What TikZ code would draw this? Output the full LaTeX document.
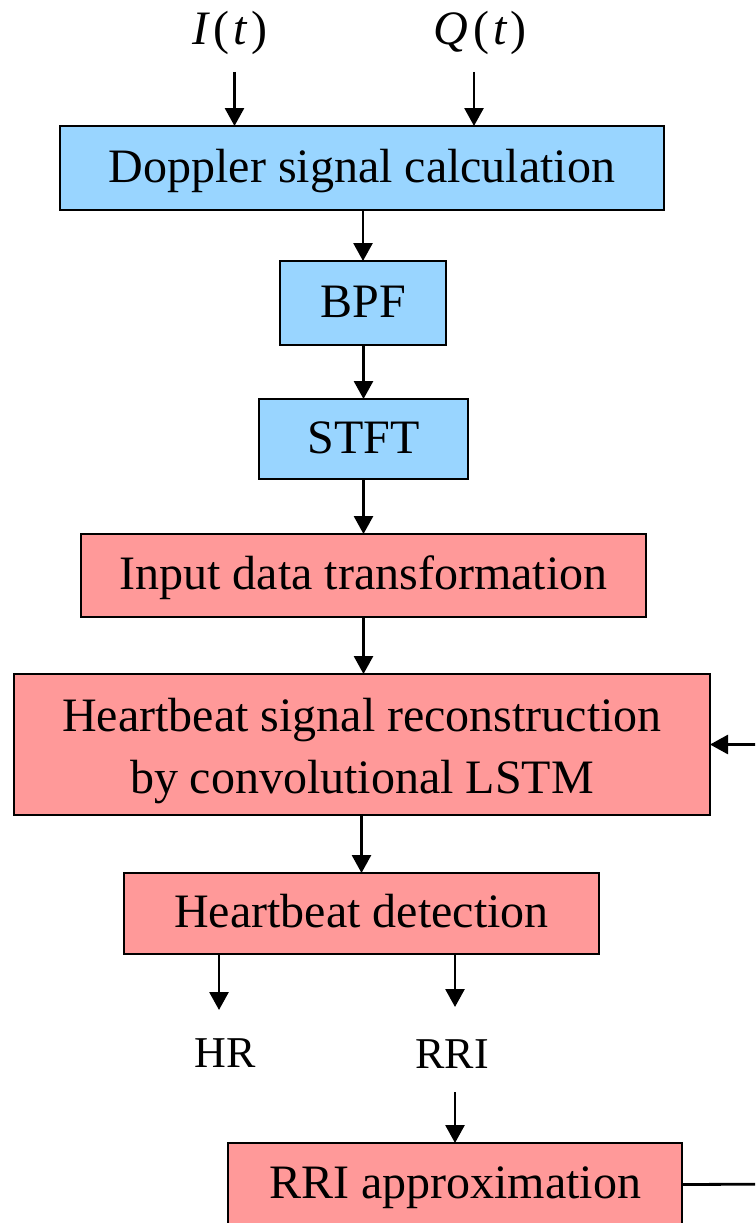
\documentclass[tikz,border=0pt]{standalone}
\usepackage{fontspec}
\setmainfont{Liberation Serif}
\usetikzlibrary{arrows.meta}
\definecolor{boxblue}{RGB}{153,213,255}
\definecolor{boxpink}{RGB}{255,153,153}
\begin{document}
\begin{tikzpicture}[x=1pt,y=-1pt,
  every node/.style={inner sep=0pt, outer sep=0pt},
  stage/.style={draw=black, line width=2.8pt,
    font=\fontsize{48}{62}\selectfont, text height=28pt, text depth=0pt, align=center},
  bluebox/.style={stage, fill=boxblue},
  pinkbox/.style={stage, fill=boxpink},
  arr/.style={line width=2.8pt, -{Triangle[length=18pt,width=19pt]}},
  lbl/.style={font=\fontsize{44}{50}\selectfont},
  sig/.style={font=\fontsize{48}{54}\selectfont},
]
\useasboundingbox (0,0) rectangle (755,1223);
\clip (0,0) rectangle (755,1223);

% input signals
\node[sig, anchor=base] (isig) at (230,45) {{\itshape I}\kern5pt(\kern4pt{\itshape t}\kern4pt)};
\node[sig, anchor=base] (qsig) at (480,45) {{\itshape Q}\kern5pt(\kern4pt{\itshape t}\kern4pt)};
\coordinate (iin) at (234.5,72);
\coordinate (qin) at (474,72);

% preprocessing stages
\node[bluebox, minimum width=604pt, minimum height=84pt] (dop) at (362,168) {Doppler signal calculation};
\node[bluebox, minimum width=166pt, minimum height=84pt] (bpf) at (363,303) {BPF};
\node[bluebox, minimum width=209pt, minimum height=80pt] (stft) at (363.5,439) {STFT};

% learning stages
\node[pinkbox, minimum width=565pt, minimum height=83pt] (inp) at (363.5,575.5) {Input data transformation};
\node[pinkbox, minimum width=696pt, minimum height=141pt, text height=97pt, text depth=0pt] (lstm) at (362,744.5)
  {Heartbeat signal reconstruction\\by convolutional LSTM};
\node[pinkbox, minimum width=475pt, minimum height=81pt] (det) at (361.5,913.5) {Heartbeat detection};

% outputs
\node[lbl, anchor=base] (hr) at (225,1067) {HR};
\node[lbl, anchor=base] (rri) at (452,1068) {RRI};
\coordinate (hrin) at (219,1010);
\coordinate (rrin) at (455,1007);
\coordinate (rrout) at (455,1092);

\node[pinkbox, minimum width=454pt, minimum height=83pt] (appr) at (455,1184.5) {RRI approximation};
\coordinate (fb) at (800,1184);

% connectors
\draw[arr] (iin) -- (iin |- dop.north);
\draw[arr] (qin) -- (qin |- dop.north);
\draw[arr] (bpf.north |- dop.south) -- (bpf.north);
\draw[arr] (stft.north |- bpf.south) -- (stft.north);
\draw[arr] (inp.north |- stft.south) -- (inp.north);
\draw[arr] (inp.south) -- (inp.south |- lstm.north);
\draw[arr] (det.north |- lstm.south) -- (det.north);
\draw[arr] (det.south -| hrin) -- (hrin);
\draw[arr] (det.south -| rrin) -- (rrin);
\draw[arr] (rrout) -- (rrout |- appr.north);
\draw[arr] (appr.east) -- (fb) |- (lstm.east);
\end{tikzpicture}
\end{document}
